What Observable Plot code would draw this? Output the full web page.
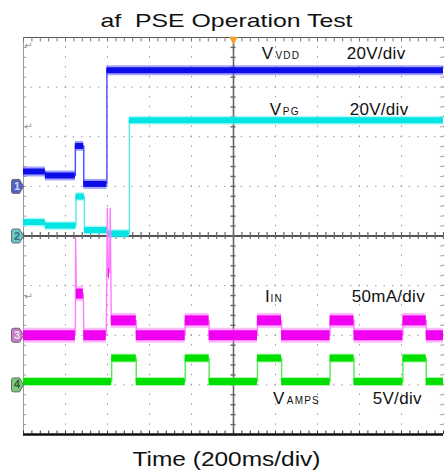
<!DOCTYPE html>
<html><head><meta charset="utf-8">
<script src="https://cdn.jsdelivr.net/npm/d3@7"></script>
<script src="https://cdn.jsdelivr.net/npm/@observablehq/plot@0.6"></script>
<style>html,body{margin:0;padding:0;background:#fff;} svg{display:block}</style>
</head><body><div id="chart"></div>
<script>
// ---- text ----
const title = "af  PSE Operation Test";
const xLabel = "Time (200ms/div)";

// ---- channels ----
const chNumbers = ["1", "2", "3", "4"];
const chOffsetDiv = [1, 0, -2, -3];        // ground marker positions (div)
const chPerDiv = [20, 20, 50, 5];          // V/div, V/div, mA/div, V/div
const chMain = ["V", "V", "I", "V"];
const chSub = ["VDD", "PG", "IN", "AMPS"];
const chScaleText = ["20V/div", "20V/div", "50mA/div", "5V/div"];

// ---- traces: time (ms) and value (V or mA) ----
const vvddT = [0, 104, 104, 247, 247, 287, 287, 397, 397, 2000];
const vvddV = [6.0, 6.0, 4.4, 4.4, 16.3, 16.3, 1.0, 1.0, 46.8, 46.8];

const vpgT = [0, 104, 104, 250, 250, 290, 290, 399, 399, 504, 504, 2000];
const vpgV = [5.6, 5.6, 4.2, 4.2, 15.9, 15.9, 2.4, 2.4, 1.0, 1.0, 46.6, 46.6];

const iinT = [0, 247, 248, 252, 285, 287, 394, 399, 404, 409, 413, 418, 537, 537, 770, 770, 884, 884, 1114, 1114, 1229, 1229, 1460, 1460, 1574, 1574, 1807, 1807, 1918, 1918, 2000];
const iinV = [0, 0, 98, 42, 42, 0, 0, 128, 63, 63, 128, 15, 15, 0, 0, 15, 15, 0, 0, 15, 15, 0, 0, 15, 15, 0, 0, 15, 15, 0, 0];

const vampsT = [0, 420, 420, 537, 537, 770, 770, 884, 884, 1114, 1114, 1229, 1229, 1460, 1460, 1574, 1574, 1807, 1807, 1918, 1918, 2000];
const vampsV = [0.35, 0.35, 2.7, 2.7, 0.35, 0.35, 2.7, 2.7, 0.35, 0.35, 2.7, 2.7, 0.35, 0.35, 2.7, 2.7, 0.35, 0.35, 2.7, 2.7, 0.35, 0.35];

const traceT = [vvddT, vpgT, iinT, vampsT];
const traceV = [vvddV, vpgV, iinV, vampsV];

// ---- styling ----
const coreColor = ["#0c0ce8", "#00e4e4", "#f000f0", "#00e000"];
const fringeColor = ["#5a5aff", "#7af2f2", "#ff80ff", "#7af07a"];
const edgeColor = ["#4a4aff", "#55eaea", "#ff7cff", "#55e855"];
const coreWidth = [6, 6, 10, 7];
const fringeWidth = [10, 9, 15, 9];
const tagFill = ["#5363c4", "#69c9c9", "#c97ac9", "#79c979"];
const tagText = ["#d8d8f0", "#3d6d6d", "#f0e0f0", "#2d5d2d"];
const font = "Liberation Sans, Arial, sans-serif";

const minorX = d3.range(0, 2000.1, 40);
const minorY = d3.range(-4, 4.01, 0.2);

const marks = [];
// dotted grid
marks.push(Plot.ruleX(d3.range(200, 2000, 200).filter(d => d !== 1000), {stroke: "#9a9a9a", strokeWidth: 1, strokeDasharray: "1.5 8.425", strokeDashoffset: 0.75}));
marks.push(Plot.ruleY(d3.range(-3, 4, 1).filter(d => d !== 0), {stroke: "#9a9a9a", strokeWidth: 1, strokeDasharray: "1.5 6.9", strokeDashoffset: 0.75}));
// right edge (dotted) + ticks
marks.push(Plot.ruleX([2000], {stroke: "#9a9a9a", strokeDasharray: "1.5 8.425", strokeDashoffset: 0.75}));
marks.push(Plot.ruleY(minorY, {x1: 1985, x2: 2000, stroke: "#aaa"}));
// left border + ticks
marks.push(Plot.ruleX([0], {stroke: "#9a9a9a"}));
marks.push(Plot.ruleY(minorY, {x1: 0, x2: 15, stroke: "#9a9a9a"}));
// top border + ticks
marks.push(Plot.ruleY([4], {stroke: "#555", strokeWidth: 1.2}));
marks.push(Plot.ruleX(minorX, {y1: 4, y2: 3.91, stroke: "#777"}));
// center axes + ticks
marks.push(Plot.ruleX([1000], {stroke: "#666", strokeWidth: 1.6}));
marks.push(Plot.ruleY([0], {stroke: "#555", strokeWidth: 2}));
marks.push(Plot.ruleX(minorX, {y1: -0.07, y2: 0.07, stroke: "#666", strokeWidth: 1.2}));
marks.push(Plot.ruleY(minorY, {x1: 988, x2: 1012, stroke: "#666", strokeWidth: 1.4}));
// bottom border + ticks
marks.push(Plot.ruleY([-4], {stroke: "#111", strokeWidth: 2.6}));
marks.push(Plot.ruleX(minorX, {y1: -4, y2: -3.93, stroke: "#333"}));

// reference arrows
marks.push(Plot.text(["\u21B5", "\u21B5", "\u21B5"], {x: 0, y: [3.84, 2.2, -1.22], text: d => d, dx: 5, fontSize: 10, fill: "#999", fontFamily: "DejaVu Sans"}));

// traces
for (let c = 0; c < 4; c++) {
  const T = traceT[c], V = traceV[c];
  const pts = T.map((t, i) => ({t, y: chOffsetDiv[c] + V[i] / chPerDiv[c]}));
  const segs = [];
  for (let i = 0; i < pts.length - 1; i++) {
    if (V[i] === V[i + 1] && T[i + 1] > T[i]) segs.push({t1: T[i], t2: T[i + 1], y: pts[i].y});
  }
  marks.push(Plot.line(pts, {x: "t", y: "y", stroke: edgeColor[c], strokeWidth: 1.4, clip: true}));
  marks.push(Plot.ruleY(segs, {y: "y", x1: "t1", x2: "t2", stroke: fringeColor[c], strokeWidth: fringeWidth[c], strokeOpacity: 0.55, clip: true}));
  marks.push(Plot.ruleY(segs, {y: "y", x1: "t1", x2: "t2", stroke: coreColor[c], strokeWidth: coreWidth[c], clip: true}));
}

// channel tags
const tag = {draw(ctx) {
  ctx.moveTo(0, 0); ctx.lineTo(-4, -7); ctx.lineTo(-10, -7);
  ctx.quadraticCurveTo(-12, -7, -12, -5); ctx.lineTo(-12, 5);
  ctx.quadraticCurveTo(-12, 7, -10, 7); ctx.lineTo(-4, 7); ctx.closePath();
}};
for (let c = 0; c < 4; c++) {
  marks.push(Plot.dot([c], {x: 0, y: chOffsetDiv[c], symbol: tag, fill: tagFill[c], stroke: "#6a6a6a", strokeWidth: 1}));
  marks.push(Plot.text([chNumbers[c]], {x: 0, y: chOffsetDiv[c], text: d => d, dx: -6.5, fontSize: 11, fontWeight: "bold", fill: tagText[c], fontFamily: font}));
}

// trigger marker
marks.push(Plot.dot([0], {x: 1000, y: 4, symbol: "triangle", rotate: 180, r: 3.2, dy: 2, fill: "#f5a020", stroke: "none"}));

// channel annotations (x in ms, y = baseline in div)
const annX = [1135, 1173, 1150, 1188];
const annSubX = [1200, 1235, 1176, 1254];
const annScaleX = [1539, 1553, 1563, 1663];
const annY = [3.56, 2.43, -1.32, -3.39];
for (let c = 0; c < 4; c++) {
  marks.push(Plot.text([chMain[c]], {x: annX[c], y: annY[c], text: d => d, textAnchor: "start", lineAnchor: "bottom", fontSize: 17, fill: "#111", fontFamily: font}));
  marks.push(Plot.text([chSub[c]], {x: annSubX[c], y: annY[c], text: d => d, textAnchor: "start", lineAnchor: "bottom", fontSize: 10, fill: "#111", fontFamily: font}));
  marks.push(Plot.text([chScaleText[c]], {x: annScaleX[c], y: annY[c], text: d => d, textAnchor: "start", lineAnchor: "bottom", fontSize: 17, fill: "#111", fontFamily: font}));
}

// title & x label
marks.push(Plot.text([title], {frameAnchor: "top", text: d => d, dx: -7, dy: -11, lineAnchor: "bottom", fontSize: 18.5, fill: "#111", fontFamily: font}));
marks.push(Plot.text([xLabel], {frameAnchor: "bottom", text: d => d, dx: -7, dy: 31, lineAnchor: "bottom", fontSize: 19.5, fill: "#111", fontFamily: font}));

const svg = Plot.plot({
  width: 444, height: 476,
  marginTop: 37, marginLeft: 23, marginRight: 1, marginBottom: 42,
  x: {domain: [0, 2000], axis: null},
  y: {domain: [-4, 4], axis: null},
  style: {background: "#fff", overflow: "visible"},
  marks
});

// stretch wide labels / letter spacing for subscripts
svg.querySelectorAll("text").forEach(el => {
  const s = el.textContent;
  if (s === title) { el.setAttribute("textLength", 252); el.setAttribute("lengthAdjust", "spacingAndGlyphs"); }
  if (s === xLabel) { el.setAttribute("textLength", 188); el.setAttribute("lengthAdjust", "spacingAndGlyphs"); }
  if (chSub.includes(s)) el.style.letterSpacing = "1.2px";
  if (chScaleText.includes(s)) el.style.letterSpacing = "0.3px";
});
document.getElementById("chart").appendChild(svg);
</script>
</body></html>
